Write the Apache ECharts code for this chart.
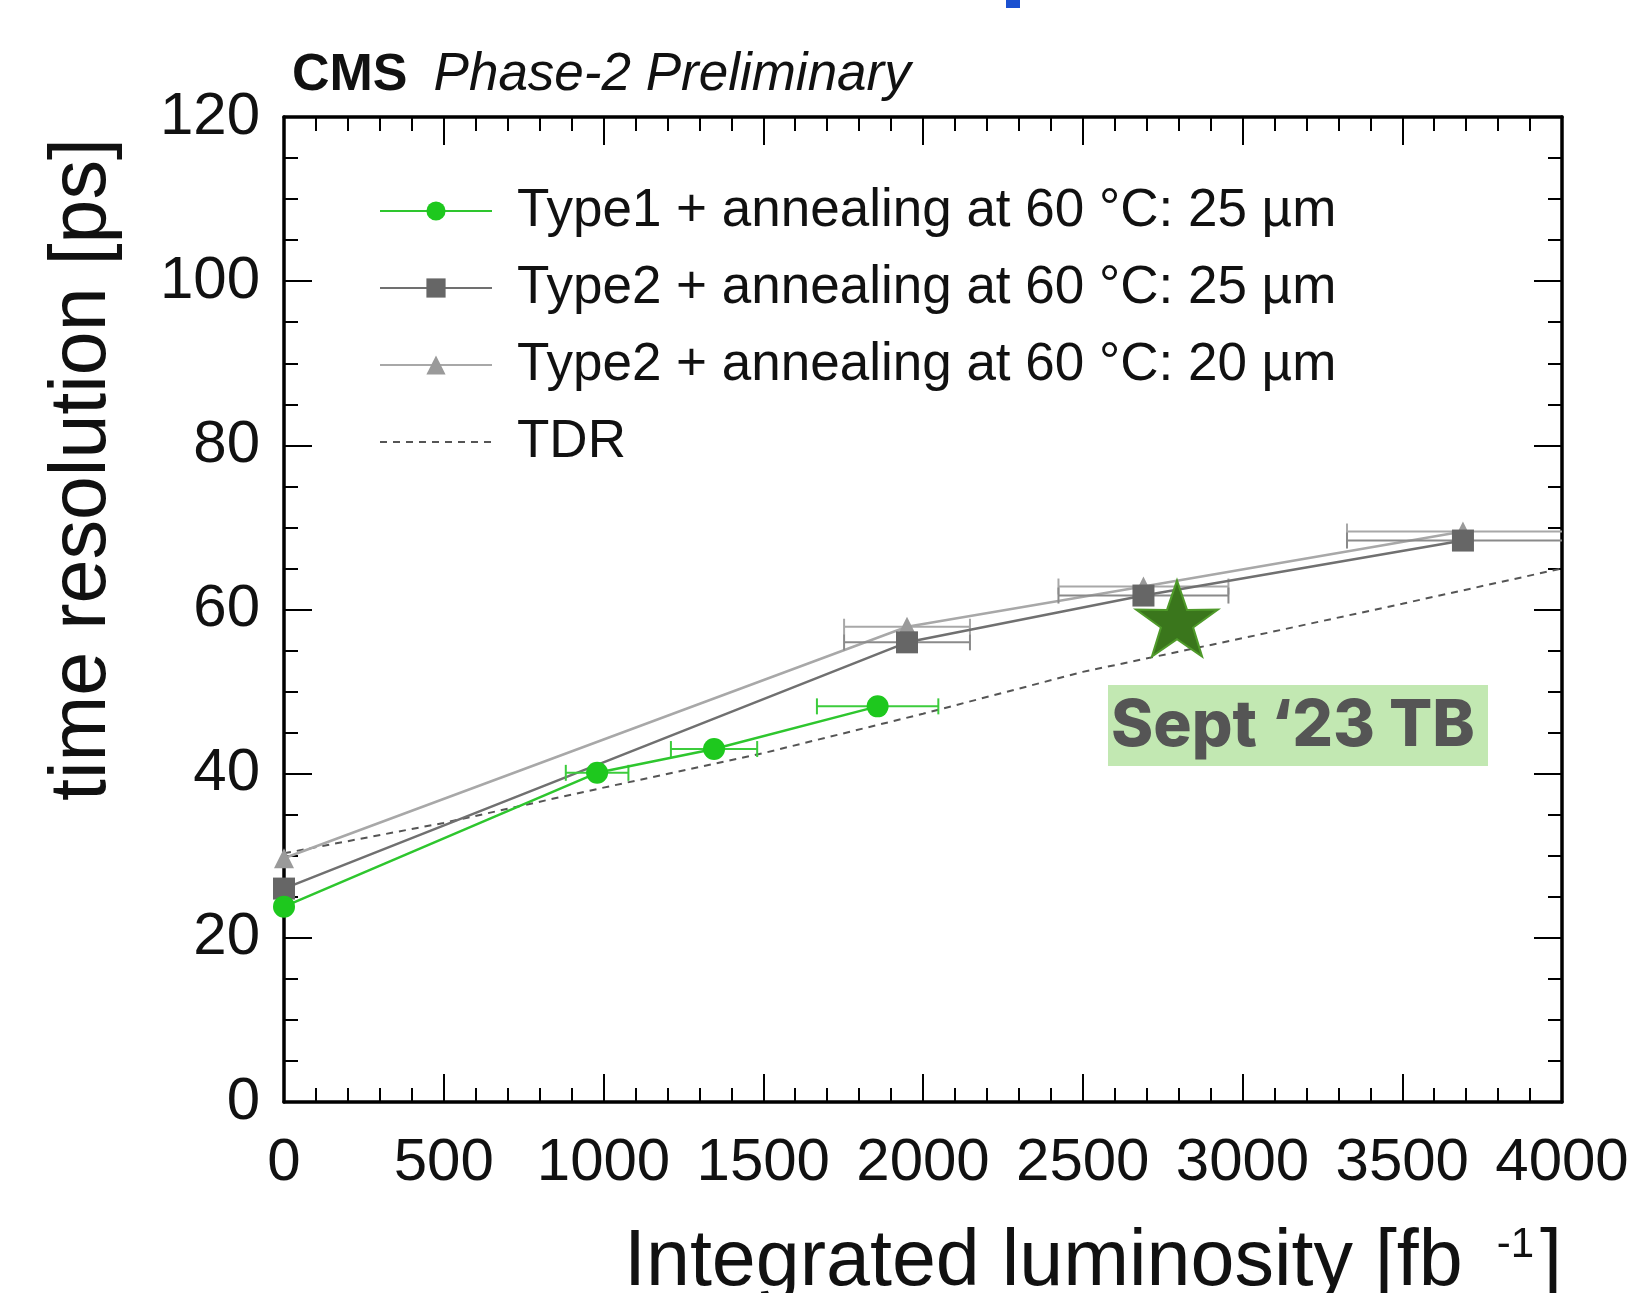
<!DOCTYPE html>
<html>
<head>
<meta charset="utf-8">
<script src="https://cdn.jsdelivr.net/npm/echarts@6/dist/echarts.min.js"></script>
<style>
  html, body { margin: 0; padding: 0; background: #fff; }
  #chart { width: 1630px; height: 1293px; }
</style>
</head>
<body>
<div id="chart"></div>
<script>
// time resolution vs integrated luminosity
const type1X = [0, 980, 1346, 1858];
const type1Y = [23.8, 40.1, 43.0, 48.2];
const type1Err = [0, 98, 135, 190];

const type2x25X = [0, 1950, 2690, 3690];
const type2x25Y = [26.0, 56.0, 61.7, 68.4];
const type2x25Err = [0, 197, 266, 363];

const type2x20X = [0, 1950, 2690, 3690];
const type2x20Y = [29.7, 57.9, 62.8, 69.5];
const type2x20Err = [0, 197, 266, 363];

const tdrX = [0, 500, 1000, 1500, 2000, 2500, 3000, 3500, 4000];
const tdrY = [30.3, 34.0, 38.3, 42.5, 47.3, 52.4, 56.5, 60.7, 65.0];

const tbPoint = [2795, 58.9];

const names = [
  'Type1 + annealing at 60 °C: 25 µm',
  'Type2 + annealing at 60 °C: 25 µm',
  'Type2 + annealing at 60 °C: 20 µm',
  'TDR'
];

const FONT = "'Liberation Sans', Arial, Helvetica, sans-serif";
const zip = (xs, ys) => xs.map((x, i) => [x, ys[i]]);
const zipErr = (xs, ys, es) => xs.map((x, i) => [x, ys[i], es[i]]).filter(d => d[2] > 0);

function errorBars(color) {
  return function (params, api) {
    const x = api.value(0), y = api.value(1), e = api.value(2);
    const lo = api.coord([x - e, y]);
    const hi = api.coord([x + e, y]);
    const cap = 8;
    const style = { stroke: color, lineWidth: 2, fill: null };
    return {
      type: 'group',
      children: [
        { type: 'line', shape: { x1: lo[0], y1: lo[1], x2: hi[0], y2: hi[1] }, style },
        { type: 'line', shape: { x1: lo[0], y1: lo[1] - cap, x2: lo[0], y2: lo[1] + cap }, style },
        { type: 'line', shape: { x1: hi[0], y1: hi[1] - cap, x2: hi[0], y2: hi[1] + cap }, style }
      ]
    };
  };
}

const axisLine = { show: true, onZero: false, lineStyle: { color: '#000', width: 3.5 } };

function xAx(pos, labels) {
  return {
    type: 'value', position: pos, min: 0, max: 4000, interval: 500,
    axisLine,
    axisTick: { show: true, inside: true, length: 28, lineStyle: { color: '#000', width: 2 } },
    minorTick: { show: true, splitNumber: 5, length: 14, lineStyle: { color: '#000', width: 2 } },
    splitLine: { show: false },
    axisLabel: labels ? { show: true, fontSize: 60, fontFamily: FONT, color: '#111', margin: 31, formatter: v => String(v) } : { show: false }
  };
}

function yAx(pos, labels) {
  return {
    type: 'value', position: pos, min: 0, max: 120, interval: 20,
    axisLine,
    axisTick: { show: true, inside: true, length: 28, lineStyle: { color: '#000', width: 2 } },
    minorTick: { show: true, splitNumber: 4, length: 14, lineStyle: { color: '#000', width: 2 } },
    splitLine: { show: false },
    axisLabel: labels ? { show: true, fontSize: 60, fontFamily: FONT, color: '#111', margin: 24, padding: [16, 0, 0, 0] } : { show: false }
  };
}

const xMain = xAx('bottom', true);
xMain.name = '{t|Integrated luminosity [fb}{s|-1}{t|]}';
xMain.nameLocation = 'middle';
xMain.nameGap = 122;
xMain.nameMoveOverlap = false;
xMain.nameTextStyle = {
  padding: [0, 0, 0, 340],
  rich: {
    t: { fontSize: 79, fontFamily: FONT, color: '#111' },
    s: { fontSize: 42, fontFamily: FONT, color: '#111', verticalAlign: 'top', padding: [0, 6, 0, 34] }
  }
};

const yMain = yAx('left', true);
yMain.name = 'time resolution [ps]';
yMain.nameLocation = 'middle';
yMain.nameGap = 161;
yMain.nameMoveOverlap = false;
yMain.nameTextStyle = { fontSize: 79, fontFamily: FONT, color: '#111', padding: [0, 0, 0, 280] };

const starPath = 'path://M50,0 L61.8,35.1 L98.1,34.5 L68.9,56 L79.4,90.5 L50,70 L20.6,90.5 L31.1,56 L1.9,34.5 L38.2,35.1 Z';

const chart = echarts.init(document.getElementById('chart'));
chart.setOption({
  animation: false,
  backgroundColor: '#fff',
  title: {
    text: '{b|CMS}{i|Phase-2 Preliminary}',
    left: 287, top: 44,
    textStyle: {
      rich: {
        b: { fontSize: 52, fontWeight: 'bold', fontFamily: FONT, color: '#111', padding: [0, 26, 0, 0] },
        i: { fontSize: 53, fontWeight: 'normal', fontStyle: 'italic', fontFamily: FONT, color: '#111' }
      }
    }
  },
  grid: { left: 284, right: 68, top: 117, bottom: 191, containLabel: false, outerBoundsMode: 'none' },
  xAxis: [xMain, xAx('top', false)],
  yAxis: [yMain, yAx('right', false)],
  legend: {
    orient: 'vertical', left: 374, top: 176,
    itemWidth: 112, itemHeight: 24, itemGap: 17,
    data: [names[0], names[1], names[2], { name: names[3], itemStyle: { opacity: 0 } }],
    textStyle: { fontSize: 53, fontFamily: FONT, color: '#111', lineHeight: 60, padding: [0, 0, 0, 20] }
  },
  series: [
    {
      name: names[3], type: 'line', data: zip(tdrX, tdrY), symbol: 'none', z: 2,
      lineStyle: { color: '#555', width: 2, type: [7, 6] }, itemStyle: { color: '#555' }
    },
    {
      name: names[2], type: 'line', data: zip(type2x20X, type2x20Y), symbol: 'triangle', symbolSize: 20, z: 3,
      lineStyle: { color: '#a8a8a8', width: 2.5 }, itemStyle: { color: '#9a9a9a' }
    },
    {
      name: names[1], type: 'line', data: zip(type2x25X, type2x25Y), symbol: 'rect', symbolSize: 22, z: 4,
      lineStyle: { color: '#707070', width: 2.5 }, itemStyle: { color: '#666' }
    },
    {
      name: names[0], type: 'line', data: zip(type1X, type1Y), symbol: 'circle', symbolSize: 22, z: 5,
      lineStyle: { color: '#2ec62e', width: 2.5 }, itemStyle: { color: '#1ec81e' }
    },
    { type: 'custom', data: zipErr(type2x20X, type2x20Y, type2x20Err), renderItem: errorBars('#a8a8a8'), clip: true, z: 3, silent: true },
    { type: 'custom', data: zipErr(type2x25X, type2x25Y, type2x25Err), renderItem: errorBars('#8a8a8a'), clip: true, z: 4, silent: true },
    { type: 'custom', data: zipErr(type1X, type1Y, type1Err), renderItem: errorBars('#3ccc3c'), clip: true, z: 5, silent: true },
    {
      type: 'scatter', data: [tbPoint], symbol: starPath, symbolSize: [82, 76], z: 10,
      itemStyle: { color: '#3a761c', borderColor: '#4f9a2a', borderWidth: 2, opacity: 1 }
    }
  ],
  graphic: [
    { type: 'rect', left: 1006, top: 0, shape: { width: 14, height: 8 }, style: { fill: '#1a50d0' } },
    { type: 'rect', left: 1108, top: 685, shape: { width: 380, height: 81 }, style: { fill: '#c2e8b2' }, z: 20 },
    {
      type: 'text', left: 1111, top: 695, z: 21,
      style: { text: 'Sept ‘23 TB', fill: '#555', font: "800 64px Inter, Lato, sans-serif" }
    }
  ]
});
</script>
</body>
</html>
